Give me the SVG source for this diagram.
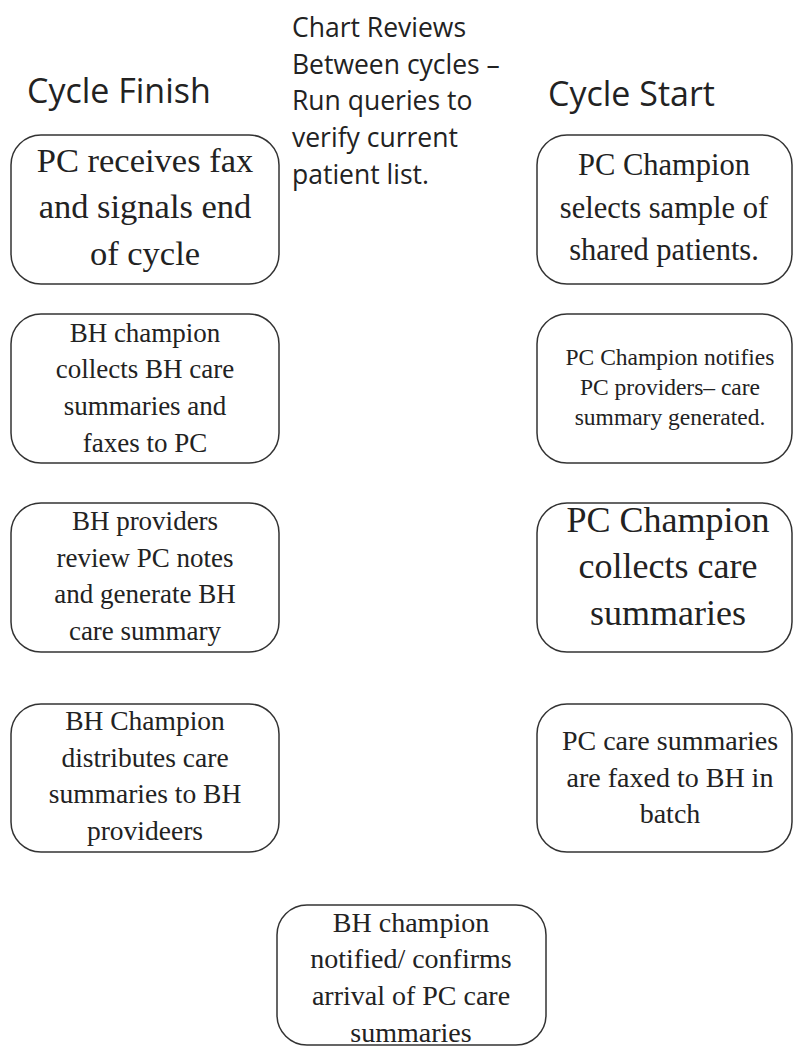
<svg xmlns="http://www.w3.org/2000/svg" width="794" height="1048" viewBox="0 0 794 1048">
<style>
.box{fill:#fff;stroke:#333;stroke-width:1.5}
.h{font-family:"Open Sans","Liberation Sans",sans-serif;font-size:34px;fill:#222}
.c{font-family:"Open Sans","Liberation Sans",sans-serif;font-size:26.5px;fill:#222}
.t{font-family:"Liberation Serif","DejaVu Serif",serif;fill:#222;text-anchor:middle}
</style>
<rect width="794" height="1048" fill="#fff"/>
<g id="headings">
<text class="h" x="27" y="103">Cycle Finish</text>
<text class="h" x="548" y="106">Cycle Start</text>
</g>
<g id="chart-reviews">
<text class="c" x="292" y="37">Chart Reviews</text>
<text class="c" x="292" y="74">Between cycles –</text>
<text class="c" x="292" y="110">Run queries to</text>
<text class="c" x="292" y="147">verify current</text>
<text class="c" x="292" y="184">patient list.</text>
</g>
<g id="n1">
<rect class="box" x="11" y="135" width="268" height="149" rx="30"/>
<text class="t" font-size="34.5" x="145" y="172">PC receives fax</text>
<text class="t" font-size="34.5" x="145" y="218">and signals end</text>
<text class="t" font-size="34.5" x="145" y="265">of cycle</text>
</g>
<g id="n2">
<rect class="box" x="11" y="314" width="268" height="149" rx="30"/>
<text class="t" font-size="27" x="145" y="342">BH champion</text>
<text class="t" font-size="27" x="145" y="378">collects BH care</text>
<text class="t" font-size="27" x="145" y="415">summaries and</text>
<text class="t" font-size="27" x="145" y="452">faxes to PC</text>
</g>
<g id="n3">
<rect class="box" x="11" y="503" width="268" height="149" rx="30"/>
<text class="t" font-size="27" x="145" y="530">BH providers</text>
<text class="t" font-size="27" x="145" y="567">review PC notes</text>
<text class="t" font-size="27" x="145" y="603">and generate BH</text>
<text class="t" font-size="27" x="145" y="640">care summary</text>
</g>
<g id="n4">
<rect class="box" x="11" y="704" width="268" height="148" rx="30"/>
<text class="t" font-size="27.5" x="145" y="730">BH Champion</text>
<text class="t" font-size="27.5" x="145" y="767">distributes care</text>
<text class="t" font-size="27.5" x="145" y="803">summaries to BH</text>
<text class="t" font-size="27.5" x="145" y="840">provideers</text>
</g>
<g id="n5">
<rect class="box" x="537" y="135" width="255" height="149" rx="30"/>
<text class="t" font-size="30.5" x="664" y="175">PC Champion</text>
<text class="t" font-size="30.5" x="664" y="218">selects sample of</text>
<text class="t" font-size="30.5" x="664" y="260">shared patients.</text>
</g>
<g id="n6">
<rect class="box" x="537" y="314" width="255" height="149" rx="30"/>
<text class="t" font-size="23.5" x="670" y="365">PC Champion notifies</text>
<text class="t" font-size="23.5" x="670" y="395">PC providers– care</text>
<text class="t" font-size="23.5" x="670" y="425">summary generated.</text>
</g>
<g id="n7">
<rect class="box" x="537" y="503" width="255" height="149" rx="30"/>
<text class="t" font-size="36" x="668" y="532">PC Champion</text>
<text class="t" font-size="36" x="668" y="578">collects care</text>
<text class="t" font-size="36" x="668" y="625">summaries</text>
</g>
<g id="n8">
<rect class="box" x="537" y="704" width="255" height="148" rx="30"/>
<text class="t" font-size="28" x="670" y="750">PC care summaries</text>
<text class="t" font-size="28" x="670" y="787">are faxed to BH in</text>
<text class="t" font-size="28" x="670" y="823">batch</text>
</g>
<g id="n9">
<rect class="box" x="277" y="905" width="269" height="140" rx="30"/>
<text class="t" font-size="28" x="411" y="932">BH champion</text>
<text class="t" font-size="28" x="411" y="968">notified/ confirms</text>
<text class="t" font-size="28" x="411" y="1005">arrival of PC care</text>
<text class="t" font-size="28" x="411" y="1042">summaries</text>
</g>
<g id="connectors"/>
</svg>
